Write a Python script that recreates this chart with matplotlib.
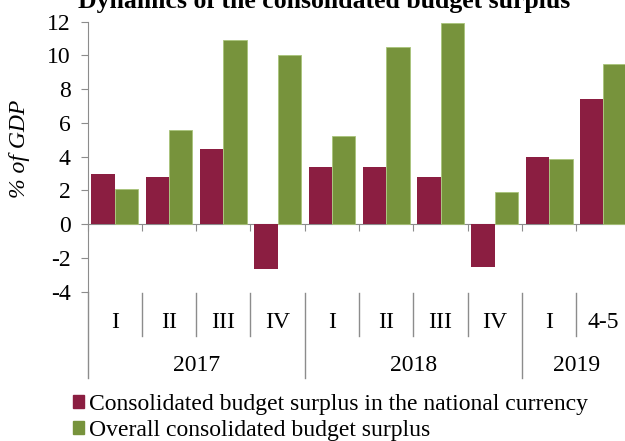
import matplotlib.pyplot as plt
from matplotlib.patches import Patch

plt.rcParams['font.family'] = ['Liberation Serif', 'DejaVu Serif']
plt.rcParams['axes.unicode_minus'] = False

# quarters and years
quarters = ['I', 'II', 'III', 'IV', 'I', 'II', 'III', 'IV', 'I', '4-5']
years = ['2017', '2018', '2019']
year_spans = [(0, 4), (4, 8), (8, 10)]

# % of GDP
national_currency = [3.0, 2.8, 4.45, -2.65, 3.4, 3.4, 2.8, -2.53, 4.0, 7.42]
overall = [2.1, 5.6, 10.92, 10.03, 5.2, 10.5, 11.94, 1.9, 3.85, 9.5]

c_red = '#8B1E41'
c_green = '#77933C'
grey = '#8c8c8c'
fs = 17

fig = plt.figure(figsize=(6.25, 4.41), dpi=100)
ax = fig.add_axes([0.140, 0.3385, 0.869, 0.6122])

w = 0.43
x = [i + 0.5 for i in range(len(quarters))]
ax.bar([v - w / 2 for v in x], national_currency, width=w, color=c_red, zorder=3)
ax.bar([v + w / 2 for v in x], overall, width=w, color=c_green,
       edgecolor='#a9c47a', linewidth=0.6, zorder=3)

ax.set_xlim(0, 10)
ax.set_ylim(-4, 12)
ax.set_yticks(range(-4, 13, 2))
ax.tick_params(axis='y', direction='out', length=5, color=grey, labelsize=fs, pad=7)
ax.set_xticks(range(0, 11))
ax.set_xticklabels([])
ax.tick_params(axis='x', direction='out', length=5, color=grey)

for s in ['top', 'right']:
    ax.spines[s].set_visible(False)
ax.spines['bottom'].set_position(('data', 0))
ax.spines['bottom'].set_color(grey)
ax.spines['left'].set_color(grey)
ax.spines['left'].set_bounds(-4, 12)

# category axis below the plot
for i, q in enumerate(quarters):
    ax.text(i + 0.5, -5.8, q, ha='center', va='center', fontsize=fs, clip_on=False)
year_edges = [s for s, _ in year_spans] + [10]
for i in range(1, 10):
    bottom = -9.1 if i in year_edges else -6.6
    ax.plot([i, i], [-4.05, bottom], color=grey, lw=1, clip_on=False)
ax.plot([0, 0], [-4, -9.1], color=grey, lw=1, clip_on=False)
for (a, b), y in zip(year_spans, years):
    ax.text((a + b) / 2, -8.35, y, ha='center', va='center', fontsize=fs, clip_on=False)

fig.text(20 / 625, 1 - 149 / 441, '% of GDP', rotation=90, ha='center', va='center',
         fontsize=fs, style='italic')

# title sits partly above the top edge, as in the source image
fig.text(0.518, 0.981, 'Dynamics of the consolidated budget surplus', ha='center',
         va='baseline', fontsize=18.5, fontweight='bold')

handles = [Patch(color=c_red, label='Consolidated budget surplus in the national currency'),
           Patch(color=c_green, label='Overall consolidated budget surplus')]
fig.legend(handles=handles, loc='upper left', bbox_to_anchor=(0.116, 0.107),
           frameon=False, fontsize=fs, handlelength=0.47, handleheight=0.47,
           handletextpad=0.23, labelspacing=0.2, borderaxespad=0, borderpad=0)

fig.savefig('out.png', dpi=100)
